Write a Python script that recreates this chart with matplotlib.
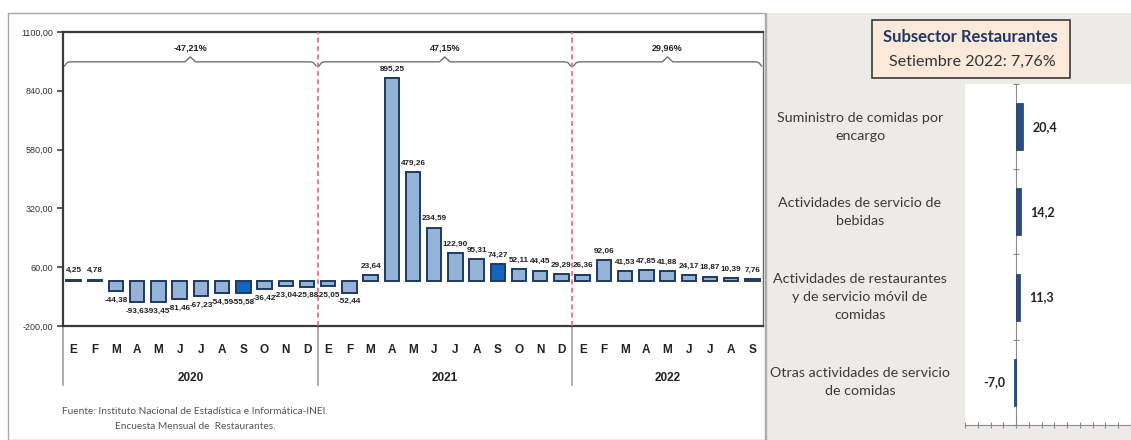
import matplotlib
matplotlib.use("Agg")
import matplotlib.pyplot as plt
from matplotlib.patches import Rectangle
from matplotlib.lines import Line2D
import numpy as np

# ---------------- data ----------------
months = ["E", "F", "M", "A", "M", "J", "J", "A", "S", "O", "N", "D",
          "E", "F", "M", "A", "M", "J", "J", "A", "S", "O", "N", "D",
          "E", "F", "M", "A", "M", "J", "J", "A", "S"]
years = ["2020", "2021", "2022"]
year_counts = [12, 12, 9]
values = [4.25, 4.78, -44.38, -93.63, -93.45, -81.46, -67.23, -54.59, -55.58, -36.42, -23.04, -25.88,
          -25.05, -52.44, 23.64, 895.25, 479.26, 234.59, 122.90, 95.31, 74.27, 52.11, 44.45, 29.29,
          26.36, 92.06, 41.53, 47.85, 41.88, 24.17, 18.87, 10.39, 7.76]
highlight = [8, 20]  # September 2020, September 2021
year_totals = ["-47,21%", "47,15%", "29,96%"]
yticks = [-200, 60, 320, 580, 840, 1100]

sub_categories = ["Suministro de comidas por\nencargo",
                  "Actividades de servicio de\nbebidas",
                  "Actividades de restaurantes\ny de servicio móvil de\ncomidas",
                  "Otras actividades de servicio\nde comidas"]
sub_values = [20.4, 14.2, 11.3, -7.0]
box_title = "Subsector Restaurantes"
box_sub = "Setiembre 2022: 7,76%"
source1 = "Fuente: Instituto Nacional de Estadística e Informática-INEI."
source2 = "Encuesta Mensual de  Restaurantes."

W, H = 1131, 440
fig = plt.figure(figsize=(W / 100, H / 100), dpi=100)
fig.patch.set_facecolor("white")


def fx(px):
    return px / W


def fy(py):
    return 1 - py / H


# outer frame of left chart
fig.add_artist(Rectangle((fx(8), fy(440)), fx(765) - fx(8), fy(13) - fy(440),
                         transform=fig.transFigure, fill=False, ec="#A8A8A8", lw=1.0))

# ---------------- left chart ----------------
L, R, T, B = 63, 763, 32, 326
ax = fig.add_axes([fx(L), fy(B), fx(R) - fx(L), fy(T) - fy(B)])
x = np.arange(len(values))
colors = ["#1565C0" if i in highlight else "#95B3D7" for i in range(len(values))]
ax.bar(x, values, width=0.68, color=colors, edgecolor="#1F3A60", linewidth=1.4, zorder=3)
ax.set_xlim(-0.5, len(values) - 0.5)
ax.set_ylim(-200, 1100)
ax.set_yticks(yticks)
ax.set_yticklabels([f"{v:.2f}".replace(".", ",") for v in yticks],
                   fontsize=6.5, color="#333333", family="Liberation Sans")
ax.tick_params(axis="y", length=4, width=1.2, color="#404040", pad=3)
ax.set_xticks([])
for s in ["left", "bottom", "top"]:
    ax.spines[s].set_linewidth(1.6)
    ax.spines[s].set_color("#3A3A3A")
ax.spines["right"].set_color("#6A6A6A")
ax.spines["right"].set_linewidth(1.0)

for i, v in enumerate(values):
    lab = f"{v:.2f}".replace(".", ",")
    if v >= 0:
        ax.annotate(lab, (i, v), xytext=(0, 4), textcoords="offset points",
                    ha="center", va="bottom", fontsize=5.9, fontweight="bold",
                    color="#222222", family="Liberation Sans", zorder=5)
    else:
        ax.annotate(lab, (i, v), xytext=(0, -4), textcoords="offset points",
                    ha="center", va="top", fontsize=5.9, fontweight="bold",
                    color="#222222", family="Liberation Sans", zorder=5)

# separators, month and year labels
xt = ax.get_xaxis_transform()
bounds = np.cumsum([0] + year_counts) - 0.5
for b in bounds[1:-1]:
    ax.axvline(b, color="#E06A7A", ls=(0, (3, 2)), lw=1.2, zorder=4)
for b in bounds[:-1]:
    ax.add_line(Line2D([b, b], [0, -0.2], transform=xt, color="#A0A0A0", lw=1.2, clip_on=False))
for i, m in enumerate(months):
    ax.text(i, -0.082, m, transform=xt, ha="center", va="center", fontsize=8.5,
            fontweight="bold", color="#222222", family="Liberation Sans")
for k, yr in enumerate(years):
    c = (bounds[k] + bounds[k + 1]) / 2
    ax.text(c, -0.177, yr, transform=xt, ha="center", va="center", fontsize=8.5,
            fontweight="bold", color="#222222", family="Liberation Sans")

# braces with totals
def brace(x0, x1, y, amp=18, tip=22, color="#707070"):
    xm = (x0 + x1) / 2
    dx = 0.25
    xs = [x0, x0 + dx * 0.5, x0 + dx, xm - dx, xm, xm + dx, x1 - dx, x1 - dx * 0.5, x1]
    ys = [y - amp, y - amp * 0.2, y, y, y + tip, y, y, y - amp * 0.2, y - amp]
    ax.plot(xs, ys, color=color, lw=1.0, zorder=4, solid_joinstyle="round")
    return xm


for k, tot in enumerate(year_totals):
    x0 = bounds[k] + 0.07
    x1 = bounds[k + 1] - 0.07
    xm = brace(x0, x1, 968)
    ax.text(xm, 1030, tot, ha="center", va="center", fontsize=6.5, fontweight="bold",
            color="#222222", family="Liberation Sans")

fig.text(fx(62), fy(411), source1, fontsize=7.3, color="#555555", family="Lato", va="center")
fig.text(fx(115), fy(426), source2, fontsize=7.3, color="#555555", family="Lato", va="center")

# ---------------- right panel ----------------
fig.add_artist(Rectangle((fx(766), fy(440)), fx(1131) - fx(766), fy(13) - fy(440),
                         transform=fig.transFigure, fc="#EDEBE7", ec="none", zorder=-5))
fig.add_artist(Rectangle((fx(766), fy(440)), 0, fy(13) - fy(440),
                         transform=fig.transFigure, fill=False, ec="#B0B0B0", lw=1.0))

rL, rR, rT, rB = 965, 1131, 84, 425
ax2 = fig.add_axes([fx(rL), fy(rB), fx(rR) - fx(rL), fy(rT) - fy(rB)])
ax2.set_facecolor("white")
n = len(sub_values)
yy = np.arange(n)
ax2.barh(yy, sub_values, height=0.55, color="#2B4C7E", edgecolor="#1F3864", lw=0.5, zorder=3)
ax2.set_ylim(n - 0.5, -0.5)
ax2.set_xlim(-160, 360)
for s in ["top", "right"]:
    ax2.spines[s].set_visible(False)
ax2.spines["left"].set_position(("data", 0))
ax2.spines["left"].set_color("#8A8A8A")
ax2.spines["bottom"].set_color("#8A8A8A")
ax2.set_yticks(np.arange(n + 1) - 0.5)
ax2.set_yticklabels([])
ax2.tick_params(axis="y", direction="inout", length=5, color="#8A8A8A")
ax2.set_xticks(np.arange(-160, 361, 40))
ax2.set_xticklabels([])
ax2.tick_params(axis="x", direction="inout", length=4, color="#8A8A8A")

for i, v in enumerate(sub_values):
    lab = f"{v:.1f}".replace(".", ",")
    if v >= 0:
        ax2.annotate(lab, (v, i), xytext=(7, 0), textcoords="offset points", ha="left",
                     va="center", fontsize=9, fontweight="bold", color="#222222", family="Lato")
    else:
        ax2.annotate(lab, (v, i), xytext=(-6, 0), textcoords="offset points", ha="right",
                     va="center", fontsize=9, fontweight="bold", color="#222222", family="Lato")

yt2 = ax2.get_yaxis_transform()
xc = (860 - rL) / (rR - rL)
for i, c in enumerate(sub_categories):
    ax2.text(xc, i, c, transform=yt2, ha="center", va="center", multialignment="center",
             fontsize=10.3, color="#3A3A3A", family="Lato", linespacing=1.6, clip_on=False)

# title box
fig.add_artist(Rectangle((fx(872), fy(78)), fx(1070) - fx(872), fy(20) - fy(78),
                         transform=fig.transFigure, fc="#FCE9DA", ec="#3A3A3A", lw=1.2))
fig.text(fx(970), fy(37), box_title, ha="center", va="center", fontsize=12.0,
         fontweight="bold", color="#1F3864", family="Lato")
fig.text(fx(972), fy(62), box_sub, ha="center", va="center", fontsize=11.6,
         color="#333333", family="Lato")

fig.savefig("out.png", dpi=100, facecolor="white")
